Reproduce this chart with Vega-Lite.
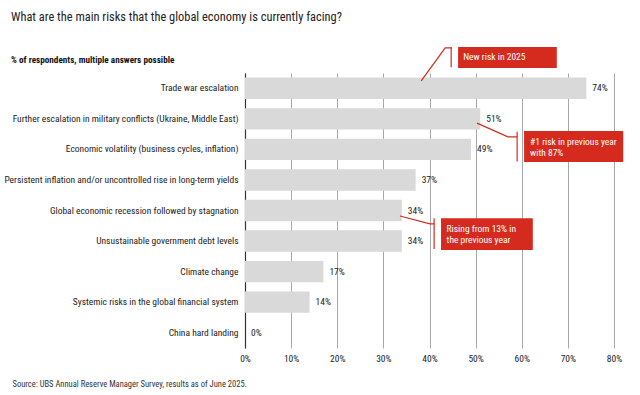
{
  "$schema": "https://vega.github.io/schema/vega-lite/v6.json",
  "width": 369,
  "height": 275,
  "autosize": {"type": "none"},
  "padding": {"left": 245, "top": 73, "right": 26, "bottom": 47},
  "background": "white",
  "config": {
    "view": {"stroke": null},
    "font": "Liberation Sans Narrow, Roboto Condensed, Roboto, sans-serif"
  },
  "title": {
    "text": "What are the main risks that the global economy is currently facing?",
    "subtitle": "% of respondents, multiple answers possible",
    "anchor": "start",
    "frame": "group",
    "dx": -234,
    "offset": -20,
    "fontSize": 12.4,
    "fontWeight": "normal",
    "color": "#222222",
    "subtitleFontSize": 9.2,
    "subtitleFontWeight": "bold",
    "subtitleColor": "#111111",
    "subtitlePadding": 33
  },
  "datasets": {
    "bars": [
      {"risk": "Trade war escalation", "pct": 74},
      {"risk": "Further escalation in military conflicts (Ukraine, Middle East)", "pct": 51},
      {"risk": "Economic volatility (business cycles, inflation)", "pct": 49},
      {"risk": "Persistent inflation and/or uncontrolled rise in long-term yields", "pct": 37},
      {"risk": "Global economic recession followed by stagnation", "pct": 34},
      {"risk": "Unsustainable government debt levels", "pct": 34},
      {"risk": "Climate change", "pct": 17},
      {"risk": "Systemic risks in the global financial system", "pct": 14},
      {"risk": "China hard landing", "pct": 0}
    ],
    "boxes": [
      {"id": "a", "x": 46.2, "x2": 67.6, "y": -0.85, "y2": -0.16},
      {"id": "b", "x": 60.5, "x2": 82.0, "y": 1.90, "y2": 2.91},
      {"id": "c", "x": 42.5, "x2": 62.4, "y": 4.75, "y2": 5.79}
    ],
    "brackets": [
      {"id": "a", "x": 44.7, "y": -0.85, "y2": -0.19},
      {"id": "b", "x": 59.0, "y": 1.92, "y2": 2.90},
      {"id": "c", "x": 41.0, "y": 4.75, "y2": 5.76}
    ],
    "connectors": [
      {"id": "a", "k": 0, "x": 38.2, "y": 0.26},
      {"id": "a", "k": 1, "x": 43.4, "y": -0.82},
      {"id": "a", "k": 2, "x": 44.7, "y": -0.82},
      {"id": "b", "k": 0, "x": 50.3, "y": 1.64},
      {"id": "b", "k": 1, "x": 57.0, "y": 2.09},
      {"id": "b", "k": 2, "x": 59.0, "y": 2.09},
      {"id": "c", "k": 0, "x": 33.6, "y": 4.68},
      {"id": "c", "k": 1, "x": 40.1, "y": 4.94},
      {"id": "c", "k": 2, "x": 41.0, "y": 4.94}
    ],
    "notes": [
      {"x": 47.3, "y": -0.51, "t": "New risk in 2025"},
      {"x": 61.8, "y": 2.25, "t": "#1 risk in previous year"},
      {"x": 61.8, "y": 2.61, "t": "with 87%"},
      {"x": 43.7, "y": 5.11, "t": "Rising from 13% in"},
      {"x": 43.7, "y": 5.47, "t": "the previous year"}
    ]
  },
  "resolve": {"scale": {"y": "independent"}, "axis": {"y": "independent"}},
  "layer": [
    {
      "data": {"name": "bars"},
      "transform": [{"calculate": "datum.pct + '%'", "as": "label"}],
      "encoding": {
        "y": {
          "field": "risk",
          "type": "nominal",
          "sort": null,
          "scale": {"paddingInner": 0.3, "paddingOuter": 0.15},
          "axis": {
            "title": null,
            "domainColor": "#333333",
            "domainWidth": 1.2,
            "ticks": false,
            "labelPadding": 7,
            "labelFontSize": 9.5,
            "labelColor": "#222222",
            "labelLimit": 300
          }
        },
        "x": {
          "field": "pct",
          "type": "quantitative",
          "scale": {"domain": [0, 80]},
          "axis": {
            "values": [0, 10, 20, 30, 40, 50, 60, 70, 80],
            "labelExpr": "datum.value + '%'",
            "labelFlush": false,
            "grid": true,
            "gridColor": "#a8a8a8",
            "gridWidth": 1,
            "domain": false,
            "ticks": false,
            "labelPadding": 5,
            "labelFontSize": 9.5,
            "labelColor": "#222222",
            "title": "Source: UBS Annual Reserve Manager Survey, results as of June 2025.",
            "titleX": -233,
            "titleY": 35,
            "titleAlign": "left",
            "titleBaseline": "middle",
            "titleFontSize": 8.5,
            "titleFontWeight": "normal",
            "titleColor": "#333333"
          }
        }
      },
      "layer": [
        {"mark": {"type": "bar", "color": "#d9d9d9"}},
        {
          "mark": {"type": "text", "align": "left", "baseline": "middle", "dx": 6, "fontSize": 9.5, "color": "#222222"},
          "encoding": {"text": {"field": "label"}}
        }
      ]
    },
    {
      "layer": [
        {
          "data": {"name": "boxes"},
          "mark": {"type": "rect", "color": "#d52b1e"},
          "encoding": {
            "x": {"field": "x", "type": "quantitative"},
            "x2": {"field": "x2"},
            "y": {"field": "y", "type": "quantitative", "scale": {"domain": [0, 9], "reverse": true, "zero": false, "nice": false}, "axis": null},
            "y2": {"field": "y2"}
          }
        },
        {
          "data": {"name": "brackets"},
          "mark": {"type": "rule", "color": "#d52b1e", "strokeWidth": 1.2},
          "encoding": {
            "x": {"field": "x", "type": "quantitative"},
            "y": {"field": "y", "type": "quantitative", "axis": null},
            "y2": {"field": "y2"}
          }
        },
        {
          "data": {"name": "connectors"},
          "mark": {"type": "line", "color": "#d52b1e", "strokeWidth": 1.2},
          "encoding": {
            "x": {"field": "x", "type": "quantitative"},
            "y": {"field": "y", "type": "quantitative", "axis": null},
            "detail": {"field": "id"},
            "order": {"field": "k"}
          }
        },
        {
          "data": {"name": "notes"},
          "mark": {"type": "text", "align": "left", "baseline": "middle", "fontSize": 9.5, "color": "white"},
          "encoding": {
            "x": {"field": "x", "type": "quantitative"},
            "y": {"field": "y", "type": "quantitative", "axis": null},
            "text": {"field": "t"}
          }
        }
      ]
    }
  ]
}
